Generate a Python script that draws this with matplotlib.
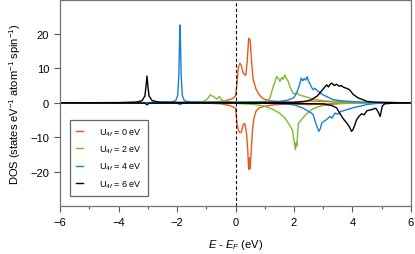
import numpy as np
import matplotlib
matplotlib.use("Agg")
import matplotlib.pyplot as plt
from matplotlib.ticker import MultipleLocator

plt.rcParams['font.family'] = ['Liberation Sans', 'DejaVu Sans']
plt.rcParams['mathtext.fontset'] = 'custom'
plt.rcParams['mathtext.rm'] = 'Liberation Sans'
plt.rcParams['mathtext.it'] = 'Liberation Sans:italic'

# U = 0 eV
e_u0_up = [-6, -1.0, -0.6, -0.3, -0.1, 0.0, 0.05, 0.1, 0.15, 0.2, 0.25, 0.3, 0.35, 0.4, 0.45,
           0.5, 0.55, 0.6, 0.7, 0.8, 0.9, 1.0, 1.2, 1.5, 2.0, 2.5, 3.0, 3.5, 4.0, 6]
d_u0_up = [0, 0.1, 0.3, 0.7, 1.2, 2.0, 5.5, 10.5, 11.5, 10.8, 9.0, 8.2, 8.0, 12.0, 18.7,
           18.3, 12.0, 7.0, 4.0, 2.5, 1.5, 1.0, 0.6, 0.3, 0.2, 0.5, 0.4, 0.2, 0.05, 0]
e_u0_dn = [-6, -1.0, -0.5, -0.2, 0.0, 0.05, 0.1, 0.15, 0.2, 0.26, 0.32, 0.38, 0.42, 0.45,
           0.48, 0.5, 0.53, 0.58, 0.63, 0.7, 0.8, 1.0, 1.3, 1.8, 2.5, 3.0, 3.5, 4.0, 6]
d_u0_dn = [0, -0.1, -0.3, -0.8, -1.5, -5.8, -8.0, -8.7, -8.5, -6.4, -6.0, -9.0, -14.0, -19.4,
           -16.0, -19.2, -15.0, -8.0, -4.5, -2.5, -1.5, -1.0, -0.6, -0.3, -0.5, -0.4, -0.2, -0.05, 0]

# U = 2 eV
e_u2_up = [-6, -1.28, -1.1, -0.95, -0.87, -0.75, -0.64, -0.55, -0.48, -0.4, -0.2, 0.0, 0.5,
           1.0, 1.1, 1.18, 1.29, 1.35, 1.41, 1.47, 1.52, 1.58, 1.63, 1.69, 1.74, 1.8, 1.86,
           1.92, 1.98, 2.1, 2.2, 2.3, 2.5, 2.7, 3.0, 3.5, 4.0, 6]
d_u2_up = [0, 0, 0.3, 1.2, 2.3, 1.8, 1.1, 1.8, 0.9, 0.5, 0.3, 0.2, 0.2,
           0.4, 0.8, 1.4, 4.7, 6.0, 7.6, 7.0, 6.2, 7.4, 6.8, 8.1, 7.0, 6.3, 4.7,
           3.6, 2.6, 2.8, 2.2, 2.0, 1.5, 1.0, 0.6, 0.3, 0.15, 0]
e_u2_dn = [-6, -1.0, 0.0, 0.5, 0.8, 1.0, 1.3, 1.5, 1.7, 1.85, 1.95, 2.0, 2.05, 2.08, 2.1,
           2.15, 2.25, 2.4, 2.6, 2.8, 3.0, 3.5, 4.0, 6]
d_u2_dn = [0, -0.1, -0.2, -0.4, -0.7, -1.0, -2.0, -3.0, -4.5, -6.5, -8.0, -11.0, -13.6, -11.5,
           -12.5, -6.0, -5.0, -3.5, -2.0, -1.2, -0.8, -0.3, -0.1, 0]

# U = 4 eV
e_u4_up = [-6, -3.0, -2.2, -2.05, -1.98, -1.94, -1.92, -1.90, -1.88, -1.86, -1.82, -1.75,
           -1.6, -1.2, 0.0, 1.0, 1.5, 1.8, 2.0, 2.1, 2.2, 2.25, 2.3, 2.35, 2.4, 2.45, 2.5,
           2.55, 2.6, 2.66, 2.72, 2.8, 2.9, 3.0, 3.12, 3.34, 3.6, 3.9, 4.2, 4.6, 6]
d_u4_up = [0, 0.05, 0.2, 0.6, 2.0, 8.0, 16.0, 22.6, 16.0, 8.0, 2.0, 0.6,
           0.3, 0.2, 0.15, 0.2, 0.4, 0.8, 1.5, 3.0, 5.5, 7.2, 6.4, 7.0, 6.6, 7.6, 6.2,
           5.5, 4.5, 3.8, 4.2, 3.5, 2.9, 2.3, 1.8, 0.9, 0.6, 0.4, 0.25, 0.1, 0]
e_u4_dn = [-6, -2.0, -1.9, -1.8, 0.0, 1.5, 2.0, 2.3, 2.5, 2.6, 2.66, 2.75, 2.85, 2.9, 2.95,
           3.0, 3.1, 3.23, 3.3, 3.4, 3.5, 3.6, 3.7, 3.8, 3.9, 4.0, 4.26, 4.5, 4.8, 5.2, 6]
d_u4_dn = [0, -0.1, -0.5, -0.1, -0.1, -0.2, -0.6, -1.5, -2.5, -3.0, -3.5, -6.0, -8.3, -7.5, -6.0,
           -5.5, -5.0, -4.0, -4.5, -3.0, -3.3, -2.5, -2.3, -2.0, -1.8, -1.5, -1.0, -0.5, -0.2, -0.05, 0]

# U = 6 eV
e_u6_up = [-6, -4.0, -3.4, -3.2, -3.1, -3.06, -3.03, -3.0, -2.96, -2.85, -2.6, -2.0, 0.0, 2.0,
           2.4, 2.6, 2.8, 2.95, 3.05, 3.12, 3.18, 3.25, 3.3, 3.38, 3.45, 3.55, 3.62, 3.7,
           3.8, 3.9, 4.03, 4.1, 4.2, 4.36, 4.5, 4.8, 5.5, 6]
d_u6_up = [0, 0.05, 0.2, 0.6, 2.0, 5.0, 7.8, 5.0, 2.0, 0.6, 0.2, 0.1, 0.05, 0.1,
           0.4, 0.9, 2.0, 3.5, 4.5, 5.2, 4.6, 5.5, 5.7, 5.0, 5.4, 4.8, 5.0, 4.5,
           4.2, 3.8, 2.4, 2.0, 1.4, 0.9, 0.4, 0.15, 0.05, 0]
e_u6_dn = [-6, -3.1, -3.03, -2.95, 0.0, 3.0, 3.3, 3.46, 3.6, 3.7, 3.8, 3.9, 3.97, 4.02, 4.08,
           4.14, 4.22, 4.31, 4.4, 4.5, 4.65, 4.8, 4.85, 4.9, 4.95, 5.02, 5.1, 5.4, 6]
d_u6_dn = [0, -0.1, -0.6, -0.1, -0.05, -0.3, -0.8, -1.5, -3.5, -4.8, -5.8, -7.0, -8.3, -7.8, -6.5,
           -5.0, -4.0, -3.2, -3.5, -2.3, -2.0, -1.6, -2.2, -3.0, -4.0, -1.0, -0.3, -0.1, 0]

labels = ['U$_{4f}$ = 0 eV', 'U$_{4f}$ = 2 eV', 'U$_{4f}$ = 4 eV', 'U$_{4f}$ = 6 eV']
colors = ['#E8581C', '#7CB834', '#1A7FD4', 'black']

series = [(e_u0_up, d_u0_up, e_u0_dn, d_u0_dn),
          (e_u2_up, d_u2_up, e_u2_dn, d_u2_dn),
          (e_u4_up, d_u4_up, e_u4_dn, d_u4_dn),
          (e_u6_up, d_u6_up, e_u6_dn, d_u6_dn)]

fig = plt.figure(figsize=(4.15, 2.55), dpi=100)
ax = fig.add_axes([0.145, 0.188, 0.845, 0.81])

for (eu, du, ed, dd), c, lab in zip(series, colors, labels):
    ax.plot(eu, du, color=c, lw=1.0, label=lab)
    ax.plot(ed, dd, color=c, lw=1.0)

ax.axvline(0, color='black', ls='--', lw=0.8, dashes=(3, 2))

ax.set_xlim(-6, 6)
ax.set_ylim(-30, 30)
ax.xaxis.set_major_locator(MultipleLocator(2))
ax.xaxis.set_minor_locator(MultipleLocator(1))
ax.set_yticks([-20, -10, 0, 10, 20])
ax.tick_params(axis='both', which='major', direction='out', length=4, width=0.8,
               color='0.35', labelsize=8, top=False, right=False, pad=4)
ax.tick_params(axis='x', which='minor', direction='out', length=2, width=0.8, color='0.35')
for s in ax.spines.values():
    s.set_color('0.45')
    s.set_linewidth(0.9)

ax.set_xlabel('$E$ - $E_F$ (eV)', fontsize=8, labelpad=7)
ax.set_ylabel('DOS (states eV$^{-1}$ atom$^{-1}$ spin$^{-1}$)', fontsize=8, labelpad=5)

leg = ax.legend(loc='lower left', bbox_to_anchor=(0.028, 0.048), fontsize=6.5,
                handlelength=0.7, handletextpad=1.8, borderpad=0.7, labelspacing=0.65,
                borderaxespad=0, fancybox=False, framealpha=1)
leg.get_frame().set_edgecolor('0.4')
leg.get_frame().set_linewidth(0.9)

fig.savefig('out.png', dpi=100)
